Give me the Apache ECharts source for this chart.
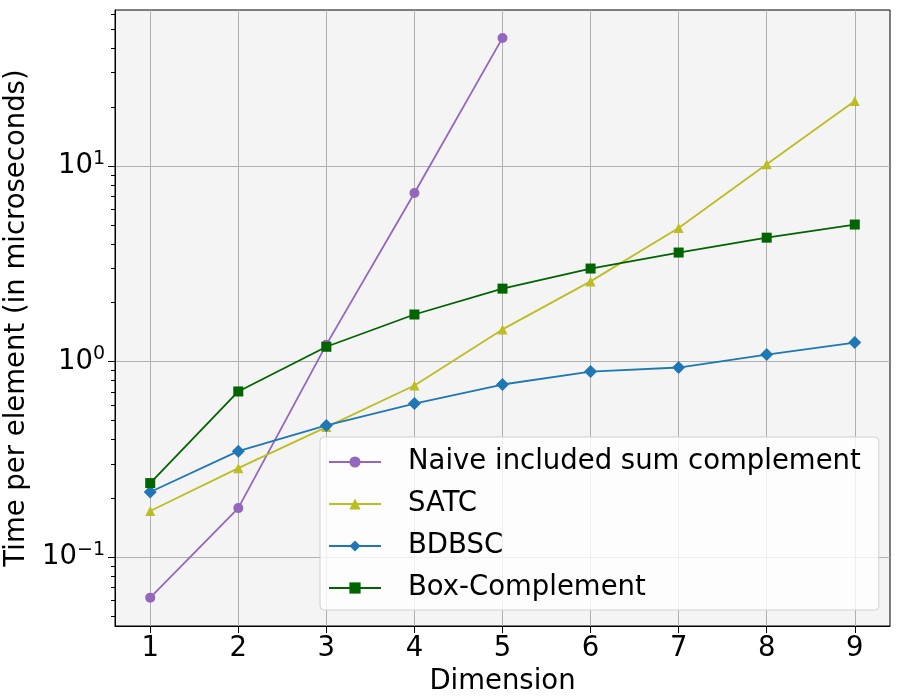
<!DOCTYPE html>
<html>
<head>
<meta charset="utf-8">
<style>
html, body { margin: 0; padding: 0; background: #fff; }
#main { width: 900px; height: 700px; }
</style>
<script src="https://cdn.jsdelivr.net/npm/echarts@6/dist/echarts.min.js"></script>
</head>
<body>
<div id="main"></div>
<script>
// dimensions on the x axis
var dims = [1, 2, 3, 4, 5, 6, 7, 8, 9];
// time per element, microseconds
var naive = [0.062, 0.178, 1.22, 7.28, 45.2];
var satc = [0.172, 0.285, 0.462, 0.754, 1.46, 2.57, 4.82, 10.2, 21.5];
var bdbsc = [0.215, 0.348, 0.471, 0.61, 0.763, 0.889, 0.932, 1.086, 1.25];
var boxc = [0.239, 0.703, 1.19, 1.74, 2.36, 2.99, 3.61, 4.3, 5.02];
// tick positions
var yMajor = [0.1, 1, 10];
var yMinor = [0.05, 0.06, 0.07, 0.08, 0.09, 0.2, 0.3, 0.4, 0.5, 0.6, 0.7, 0.8, 0.9,
	2, 3, 4, 5, 6, 7, 8, 9, 20, 30, 40, 50, 60];
var yMin = 0.0444, yMax = 62.8;

function pairs(xs, ys) {
	var out = [];
	for (var i = 0; i < ys.length; i++) out.push([xs[i], ys[i]]);
	return out;
}

var font = 'DejaVu Sans';
var fs = 27.5;
var chart = echarts.init(document.getElementById('main'));

var option = {
	animation: false,
	textStyle: { fontFamily: font },
	grid: {
		left: 115, right: 10, top: 10, bottom: 74,
		outerBoundsMode: 'none', containLabel: false,
		show: true, backgroundColor: '#f4f4f4',
		borderColor: '#000', borderWidth: 1
	},
	legend: {
		orient: 'vertical',
		left: 320, top: 437,
		backgroundColor: 'rgba(255,255,255,0.8)',
		borderColor: '#d0d0d0', borderWidth: 1, borderRadius: 4,
		padding: [11, 18, 8, 8],
		itemWidth: 52, itemHeight: 14, itemGap: 14,
		textStyle: { fontSize: fs, color: '#000', fontFamily: font, padding: [0, 0, 0, 22] },
		data: ['Naive included sum complement', 'SATC', 'BDBSC', 'Box-Complement']
	},
	xAxis: {
		type: 'value', min: 0.6, max: 9.4,
		name: 'Dimension', nameLocation: 'middle', nameGap: 41,
		nameTextStyle: { fontSize: fs, color: '#000', fontFamily: font },
		axisLine: { show: true, lineStyle: { color: '#000', width: 1 } },
		axisTick: { show: true, length: 7, lineStyle: { color: '#000' }, customValues: dims },
		axisLabel: { fontSize: fs, color: '#000', margin: 9, customValues: dims },
		splitLine: { show: true, lineStyle: { color: '#b0b0b0', width: 1 } }
	},
	yAxis: [{
		type: 'log', min: yMin, max: yMax,
		name: 'Time per element (in microseconds)', nameLocation: 'middle', nameGap: 79,
		nameTextStyle: { fontSize: fs, color: '#000', fontFamily: font },
		axisLine: { show: true, lineStyle: { color: '#000', width: 1 } },
		axisTick: { show: true, length: 7, lineStyle: { color: '#000' }, customValues: yMajor },
		axisLabel: {
			customValues: yMajor, margin: 10,
			formatter: function (v) {
				var e = Math.round(Math.log(v) / Math.LN10);
				return '{b|10}{s|' + (e < 0 ? '\u2212' + (-e) : e) + '}';
			},
			rich: {
				b: { fontSize: fs, color: '#000', fontFamily: font },
				s: { fontSize: 19, color: '#000', fontFamily: font, verticalAlign: 'top', padding: [0, 0, 14, 0] }
			}
		},
		splitLine: { show: true, lineStyle: { color: '#b0b0b0', width: 1 } }
	}, {
		// minor ticks only
		type: 'log', min: yMin, max: yMax, position: 'left',
		axisLine: { show: false },
		axisTick: { show: true, length: 4, lineStyle: { color: '#000' }, customValues: yMinor },
		axisLabel: { show: false },
		splitLine: { show: false }
	}],
	series: [{
		name: 'Naive included sum complement', type: 'line',
		data: pairs(dims, naive),
		symbol: 'circle', symbolSize: 10,
		itemStyle: { color: '#9467bd' }, lineStyle: { color: '#9467bd', width: 1.8 }
	}, {
		name: 'SATC', type: 'line',
		data: pairs(dims, satc),
		symbol: 'triangle', symbolSize: 10,
		itemStyle: { color: '#bcbd22' }, lineStyle: { color: '#bcbd22', width: 1.8 }
	}, {
		name: 'BDBSC', type: 'line',
		data: pairs(dims, bdbsc),
		symbol: 'diamond', symbolSize: 13,
		itemStyle: { color: '#1f77b4' }, lineStyle: { color: '#1f77b4', width: 1.8 }
	}, {
		name: 'Box-Complement', type: 'line',
		data: pairs(dims, boxc),
		symbol: 'rect', symbolSize: 10,
		itemStyle: { color: '#006400' }, lineStyle: { color: '#006400', width: 1.8 }
	}]
};
chart.setOption(option);
</script>
</body>
</html>
